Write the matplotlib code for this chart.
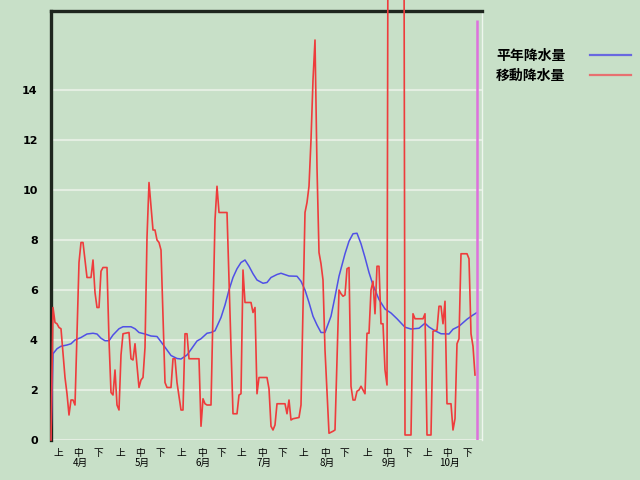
import matplotlib
matplotlib.use("Agg")
import matplotlib.pyplot as plt
from matplotlib.transforms import blended_transform_factory

plt.rcParams['font.family'] = ['Noto Sans CJK JP', 'DejaVu Sans']

# ---- data (day index: 0 = 4月1日) ----
heinen_days = [0, 1, 3, 5, 8, 10, 12, 15, 18, 21, 23, 25, 27, 29, 31, 34, 36, 40, 42, 44,
               47, 50, 53, 55, 58, 60, 63, 65, 68, 70, 73, 75, 78, 80, 82, 85, 87, 89, 91,
               93, 95, 97, 99, 101, 103, 106, 108, 110, 113, 115, 119, 123, 125, 127, 129,
               131, 133, 135, 137, 140, 142, 144, 147, 149, 151, 153, 155, 157, 159, 161,
               164, 167, 170, 173, 177, 180, 184, 187, 189, 192, 195, 199, 201, 204, 208,
               211, 213]
heinen_vals = [0.0, 3.45, 3.65, 3.75, 3.8, 3.85, 4.0, 4.1, 4.24, 4.27, 4.24, 4.07, 3.97, 3.97,
               4.2, 4.45, 4.53, 4.53, 4.45, 4.3, 4.24, 4.16, 4.14, 3.93, 3.6, 3.38, 3.26,
               3.24, 3.4, 3.62, 3.96, 4.05, 4.27, 4.3, 4.37, 4.9, 5.4, 6.0, 6.5, 6.85, 7.1,
               7.2, 6.95, 6.65, 6.4, 6.27, 6.3, 6.5, 6.62, 6.67, 6.56, 6.55, 6.35, 6.0, 5.5,
               4.95, 4.6, 4.3, 4.3, 4.95, 5.73, 6.55, 7.45, 7.95, 8.25, 8.27, 7.85, 7.3, 6.7,
               6.2, 5.62, 5.24, 5.08, 4.85, 4.51, 4.44, 4.47, 4.67, 4.52, 4.37, 4.25, 4.24,
               4.43, 4.55, 4.83, 5.0, 5.1]

idou_days = [0, 1, 2, 3, 4, 5, 7, 8, 9, 10, 11, 12, 14, 15, 16, 18, 20, 21, 22, 23, 24, 25,
             26, 28, 29, 30, 31, 32, 33, 34, 35, 36, 39, 40, 41, 42, 43, 44, 45, 46, 47, 48,
             49, 51, 52, 53, 54, 55, 57, 58, 60, 61, 62, 63, 65, 66, 67, 68, 69, 74, 75, 76,
             77, 78, 80, 82, 83, 84, 88, 91, 93, 94, 95, 96, 97, 100, 101, 102, 103, 104,
             108, 109, 110, 111, 112, 113, 117, 118, 119, 120, 121, 124, 125, 127, 128, 129,
             130, 131, 132, 133, 134, 135, 136, 137, 139, 141, 142, 144, 145, 146, 147, 148,
             149, 150, 151, 152, 153, 154, 155, 157, 158, 159, 160, 161, 162, 163, 164, 165,
             166, 167, 168, 169, 176, 177, 180, 181, 182, 186, 187, 188, 190, 191, 193, 194,
             195, 196, 197, 198, 200, 201, 202, 203, 204, 205, 208, 209, 210, 211, 212]
idou_vals = [0.0, 5.3, 4.7, 4.65, 4.5, 4.45, 2.5, 1.85, 1.0, 1.6, 1.6, 1.4, 7.1, 7.9, 7.9,
             6.5, 6.5, 7.2, 5.9, 5.3, 5.3, 6.75, 6.9, 6.9, 4.0, 1.9, 1.8, 2.8, 1.4, 1.2, 3.4,
             4.25, 4.3, 3.25, 3.2, 3.85, 2.95, 2.1, 2.4, 2.5, 3.7, 8.1, 10.3, 8.4, 8.4, 8.0,
             7.9, 7.6, 2.3, 2.1, 2.1, 3.25, 3.25, 2.3, 1.2, 1.2, 4.25, 4.25, 3.25, 3.25, 0.55,
             1.65, 1.45, 1.4, 1.4, 8.8, 10.15, 9.1, 9.1, 1.05, 1.05, 1.8, 1.85, 6.8, 5.5, 5.5,
             5.1, 5.3, 1.85, 2.5, 2.5, 2.05, 0.55, 0.4, 0.6, 1.45, 1.45, 1.05, 1.6, 0.8, 0.85,
             0.9, 1.4, 9.1, 9.5, 10.15, 12.0, 14.4, 16.0, 10.9, 7.5, 7.05, 6.4, 3.6, 0.27,
             0.35, 0.4, 6.0, 5.85, 5.75, 5.8, 6.85, 6.9, 2.15, 1.6, 1.6, 1.95, 2.0, 2.15, 1.85,
             4.27, 4.27, 6.0, 6.35, 5.05, 6.95, 6.95, 4.65, 4.65, 2.8, 2.2, 40.0, 40.0, 0.2,
             0.2, 5.05, 4.85, 4.85, 5.05, 0.2, 0.2, 4.35, 4.4, 5.35, 5.35, 4.65, 5.55, 1.45,
             1.45, 0.4, 0.85, 3.85, 4.05, 7.45, 7.45, 7.25, 4.25, 3.75, 2.6]

months = ['4月', '5月', '6月', '7月', '8月', '9月', '10月']
jun_labels = ['上', '中', '下']
y_ticks = [0, 2, 4, 6, 8, 10, 12, 14]
legend_labels = ['平年降水量', '移動降水量']
today_day = 213
today_top = 16.8

# label positions (layout)
tick_days = [3.5, 13.5, 23.5, 34.5, 44.5, 54.5, 65.3, 75.3, 85.3, 95.3, 105.7, 115.7,
             126.2, 137.0, 146.5, 158.2, 168.2, 178.2, 188.2, 198.2, 208.2]

BG = '#C8E0C8'
fig = plt.figure(figsize=(6.4, 4.8), dpi=100, facecolor=BG)
ax = fig.add_axes([51 / 640, 40 / 480, 431 / 640, 429 / 480], facecolor=BG)
ax.set_xlim(0, 215.5)
ax.set_ylim(0, 17.16)

for v in y_ticks:
    ax.axhline(v, color='#E4EEE2', lw=1.5, zorder=1)

l1, = ax.plot(heinen_days, heinen_vals, color='#5050E6', lw=1.1, zorder=2.6)
l2, = ax.plot(idou_days, idou_vals, color='#EE3C3C', lw=1.2, zorder=2.7, clip_on=False)
ax.vlines(today_day, 0, today_top, color='#DD72DD', lw=1.8, zorder=2.8)

ax.spines['bottom'].set_visible(False)
ax.spines['left'].set_color('#1E261E')
ax.spines['left'].set_linewidth(2.4)
ax.spines['top'].set_color('#1E261E')
ax.spines['top'].set_linewidth(2.4)
ax.spines['right'].set_color('#EEF6EE')
ax.spines['right'].set_linewidth(1.0)

ax.set_yticks(y_ticks)
ax.set_yticklabels([str(v) for v in y_ticks], fontsize=8, fontweight='bold',
                   family='DejaVu Sans')
ax.tick_params(axis='y', length=0, pad=9.5)
ax.set_xticks([])

tr = blended_transform_factory(ax.transData, ax.transAxes)
for i, d in enumerate(tick_days):
    ax.annotate(jun_labels[i % 3], xy=(d, 0), xycoords=tr, xytext=(0, -9.2),
                textcoords='offset points', ha='center', va='center', fontsize=7)
for m, name in enumerate(months):
    ax.annotate(name, xy=(tick_days[3 * m + 1] + 1, 0), xycoords=tr, xytext=(0, -16.6),
                textcoords='offset points', ha='center', va='center', fontsize=7)

leg = ax.legend([l1, l2], legend_labels, loc='upper left',
                bbox_to_anchor=(496 / 640, 1 - 49 / 480), bbox_transform=fig.transFigure,
                frameon=False, markerfirst=False, borderpad=0, borderaxespad=0,
                handlelength=2.9, handletextpad=1.8, labelspacing=0.45,
                prop={'size': 10, 'weight': 'bold', 'family': ['Noto Sans CJK JP']})
leg.get_lines()[0].set_color('#6868E0')
leg.get_lines()[1].set_color('#E87070')
for ln in leg.get_lines():
    ln.set_linewidth(1.6)

fig.savefig('out.png', dpi=100, facecolor=BG)
